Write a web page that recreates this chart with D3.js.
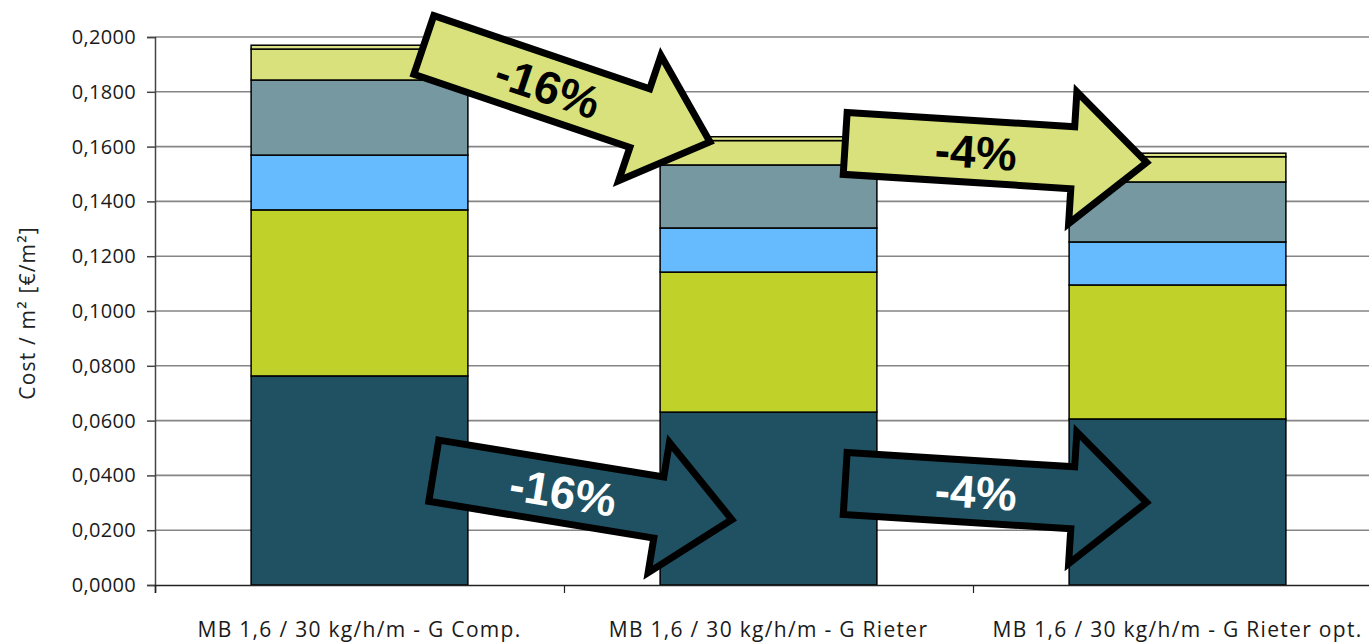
<!DOCTYPE html>
<html>
<head>
<meta charset="utf-8">
<script src="https://cdn.jsdelivr.net/npm/d3@7"></script>
<style>
  html, body { margin: 0; padding: 0; background: #fff; }
  svg { display: block; overflow: hidden; }
  .axis text { font-family: "Open Sans", sans-serif; fill: #1a1a1a; }
</style>
</head>
<body>
<div class="chart"></div>
<script>
// categories (x axis)
const categories = ['MB 1,6 / 30 kg/h/m - G Comp.', 'MB 1,6 / 30 kg/h/m - G Rieter', 'MB 1,6 / 30 kg/h/m - G Rieter opt.'];

// stacked cost parts per category, bottom to top  (€/m²)
const part1 = [0.0763, 0.0631, 0.0606];
const part2 = [0.0606, 0.0511, 0.0489];
const part3 = [0.0200, 0.0161, 0.0157];
const part4 = [0.0274, 0.0230, 0.0219];
const part5 = [0.0113, 0.0089, 0.0092];
const part6 = [0.0014, 0.0014, 0.0013];

const yTicks = [0, 0.02, 0.04, 0.06, 0.08, 0.10, 0.12, 0.14, 0.16, 0.18, 0.20];

// arrow annotations: pos = place along the category axis (in category units), value = height
const arrowLabels = ['-16%', '-4%', '-16%', '-4%'];
const arrowPos = [1.007, 2.056, 1.046, 2.056];
const arrowValue = [0.1794, 0.1577, 0.0328, 0.0336];
const arrowAngle = [18.7, 3.6, 9.3, 3.6];
const arrowKind = ['light', 'light', 'dark', 'dark'];

const keys = ['part1', 'part2', 'part3', 'part4', 'part5', 'part6'];
const colors = ['#1f5163', '#c0d22a', '#66bbff', '#7699a1', '#d8e17c', '#dbe384'];

const table = categories.map((c, i) => ({
  cat: c, part1: part1[i], part2: part2[i], part3: part3[i],
  part4: part4[i], part5: part5[i], part6: part6[i]
}));

const W = 1369, H = 644;
const margin = {left: 155, right: 1382, top: 37, bottom: 585};

const svg = d3.select('.chart').append('svg')
  .attr('width', W)
  .attr('height', H);

const x = d3.scaleBand()
  .domain(categories)
  .range([margin.left, margin.right])
  .paddingInner(0.47)
  .paddingOuter(0.235);

const xPos = d3.scaleLinear().domain([0, categories.length]).range([margin.left, margin.right]);

const y = d3.scaleLinear().domain([0, 0.2]).range([margin.bottom, margin.top]);

// gridlines
svg.append('g')
  .selectAll('line')
  .data(yTicks.filter(d => d > 0))
  .enter()
  .append('line')
  .attr('x1', margin.left).attr('x2', margin.right)
  .attr('y1', d => y(d)).attr('y2', d => y(d))
  .attr('stroke', '#858585')
  .attr('stroke-width', 1.6);

// stacked bars
const stacked = d3.stack().keys(keys)(table);

svg.append('g')
  .selectAll('g')
  .data(stacked)
  .enter()
  .append('g')
  .attr('fill', (d, i) => colors[i])
  .selectAll('rect')
  .data(d => d)
  .enter()
  .append('rect')
  .attr('x', d => x(d.data.cat))
  .attr('width', x.bandwidth())
  .attr('y', d => y(d[1]))
  .attr('height', d => y(d[0]) - y(d[1]))
  .attr('stroke', '#000')
  .attr('stroke-width', 1.5);

// y axis
const yAxis = d3.axisLeft(y)
  .tickValues(yTicks)
  .tickFormat(d => d3.format('.4f')(d).replace('.', ','))
  .tickSize(8)
  .tickPadding(11);

const gy = svg.append('g')
  .attr('class', 'axis')
  .attr('transform', `translate(${margin.left},0)`)
  .call(yAxis);
gy.select('.domain').attr('stroke', '#444').attr('stroke-width', 1.5);
gy.selectAll('.tick line').attr('stroke', '#444').attr('stroke-width', 1.5);
gy.selectAll('text').style('font-size', '20px').style('letter-spacing', '0.3px');

// x axis: tick marks at category edges, labels under the bars
const xAxis = d3.axisBottom(xPos)
  .tickValues(d3.range(0, categories.length + 1))
  .tickFormat('')
  .tickSize(8);

const gx = svg.append('g')
  .attr('class', 'axis')
  .attr('transform', `translate(0,${margin.bottom})`)
  .call(xAxis);
gx.select('.domain').attr('stroke', '#222').attr('stroke-width', 1.6);
gx.selectAll('.tick line').attr('stroke', '#222').attr('stroke-width', 1.2);

svg.append('g')
  .attr('class', 'axis')
  .selectAll('text')
  .data(categories)
  .enter()
  .append('text')
  .attr('x', d => x(d) + x.bandwidth() / 2)
  .attr('y', 637)
  .attr('text-anchor', 'middle')
  .style('font-size', '21px')
  .style('letter-spacing', '1.3px')
  .text(d => d);

// y axis title
svg.append('text')
  .attr('transform', `translate(35,313) rotate(-90)`)
  .attr('text-anchor', 'middle')
  .style('font-family', '"Open Sans", sans-serif')
  .style('font-size', '21px')
  .style('letter-spacing', '1.2px')
  .attr('fill', '#222')
  .text('Cost / m² [€/m²]');

// arrows
const half = 151, shaft = 31, head = 66, headLen = 74;
const arrowShape = [
  [-half, -shaft], [half - headLen, -shaft], [half - headLen, -head], [half, 0],
  [half - headLen, head], [half - headLen, shaft], [-half, shaft]
];

const arrows = arrowLabels.map((l, i) => ({
  label: l, pos: arrowPos[i], value: arrowValue[i], angle: arrowAngle[i], kind: arrowKind[i]
}));

const ag = svg.append('g')
  .selectAll('g')
  .data(arrows)
  .enter()
  .append('g')
  .attr('transform', d => `translate(${xPos(d.pos)},${y(d.value)}) rotate(${d.angle})`);

ag.append('path')
  .attr('d', d3.line()(arrowShape) + 'Z')
  .attr('fill', d => d.kind === 'light' ? '#d8e17c' : '#1f5163')
  .attr('stroke', '#000')
  .attr('stroke-width', 7)
  .attr('stroke-linejoin', 'miter')
  .attr('stroke-miterlimit', 10);

ag.append('text')
  .attr('x', -20)
  .attr('y', 0)
  .attr('dy', '0.36em')
  .attr('text-anchor', 'middle')
  .style('font-family', '"Liberation Sans", Arial, sans-serif')
  .style('font-weight', 'bold')
  .style('font-size', '46px')
  .attr('fill', d => d.kind === 'light' ? '#000' : '#fff')
  .text(d => d.label);
</script>
</body>
</html>
